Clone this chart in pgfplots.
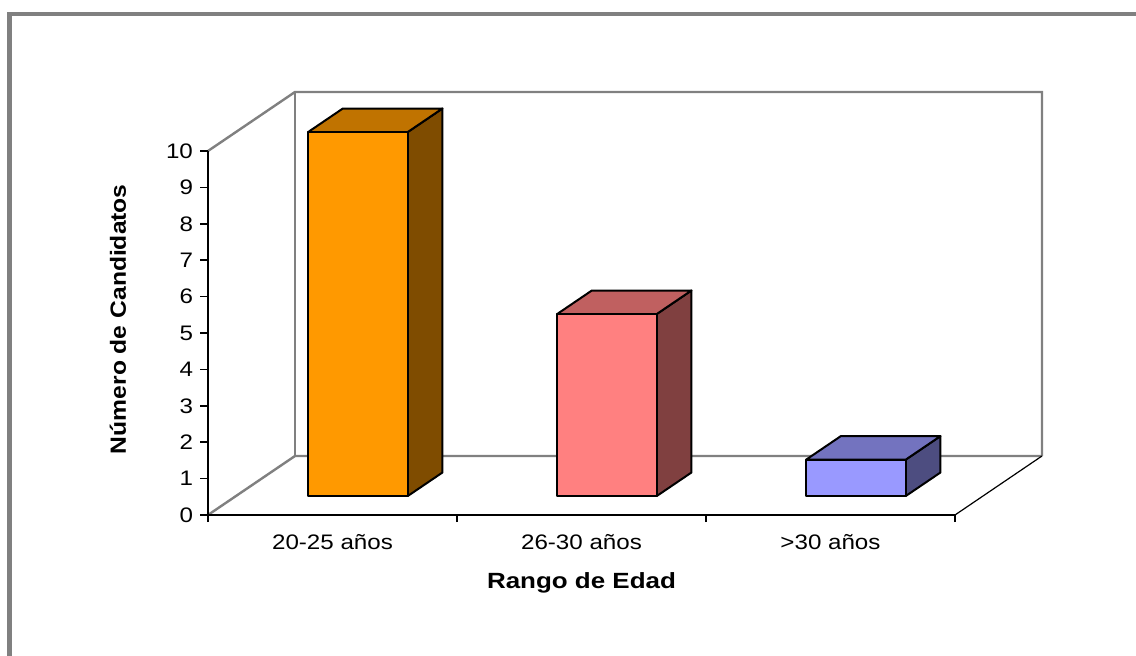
\documentclass[border=0pt]{standalone}
\usepackage{pgfplots}
\pgfplotsset{compat=1.18}
\usepackage{graphicx}
\usepackage{fontspec}
\setmainfont{Liberation Sans}

\definecolor{framegray}{HTML}{808080}
\definecolor{wallgray}{HTML}{808080}
\definecolor{orF}{HTML}{FF9900}
\definecolor{orT}{HTML}{C07300}
\definecolor{orS}{HTML}{7F4C00}
\definecolor{rsF}{HTML}{FF8080}
\definecolor{rsT}{HTML}{C06060}
\definecolor{rsS}{HTML}{804040}
\definecolor{blF}{HTML}{9999FF}
\definecolor{blT}{HTML}{7373BF}
\definecolor{blS}{HTML}{4D4D80}

% text is set slightly wider, as in the spreadsheet rendering
\newcommand{\wide}[1]{\scalebox{1.15}[1]{#1}}
\newcommand{\wider}[1]{\scalebox{1.18}[1]{#1}}

% one 3-D column: left x, right x, value, front / top / side colours
\newcommand{\column}[6]{%
  \addplot3[draw=black, line width=1pt, line join=round, fill=#6, mark=none]
    coordinates {(#2,0.32,0) (#2,0.72,0) (#2,0.72,#3) (#2,0.32,#3)} -- cycle;
  \addplot3[draw=black, line width=1pt, line join=round, fill=#5, mark=none]
    coordinates {(#1,0.32,#3) (#2,0.32,#3) (#2,0.72,#3) (#1,0.72,#3)} -- cycle;
  \addplot3[draw=black, line width=1pt, line join=round, fill=#4, mark=none]
    coordinates {(#1,0.32,0) (#2,0.32,0) (#2,0.32,#3) (#1,0.32,#3)} -- cycle;
}

\begin{document}
\begin{tikzpicture}
\useasboundingbox (0,0) rectangle (568pt,328pt);
\fill[white] (0,0) rectangle (568pt,328pt);
\begin{scope}
\clip (0,0) rectangle (568pt,328pt);
\draw[line width=2.3pt, framegray] (4.75pt,-5pt) -- (4.75pt,321pt) -- (580pt,321pt);
\end{scope}

% walls, floor and columns
\begin{axis}[
  at={(104pt,70.5pt)}, anchor=origin,
  x={(124.5pt,0pt)}, y={(43.5pt,29.5pt)}, z={(0pt,18.2pt)},
  xmin=0, xmax=3, ymin=0, ymax=1, zmin=0, zmax=10,
  hide axis, clip=false,
]
\addplot3[wallgray, line width=1.2pt, mark=none] coordinates {(0,0,0) (0,1,0) (3,1,0)};
\addplot3[wallgray, line width=1.2pt, mark=none] coordinates {(0,0,10) (0,1,10) (3,1,10) (3,1,0)};
\addplot3[wallgray, line width=1.2pt, mark=none] coordinates {(0,1,0) (0,1,10)};
\addplot3[black, line width=0.6pt, mark=none] coordinates {(3,0,0) (3,1,0)};

\column{0.29}{0.69}{10}{orF}{orT}{orS}
\column{1.29}{1.69}{5}{rsF}{rsT}{rsS}
\column{2.29}{2.69}{1}{blF}{blT}{blS}
\end{axis}

% front axes with ticks and labels
\begin{axis}[
  at={(104pt,70.5pt)}, anchor=origin,
  x={(124.5pt,0pt)}, y={(0pt,18.2pt)},
  xmin=0, xmax=3, ymin=0, ymax=10,
  axis x line*=bottom, axis y line*=left,
  axis line style={black, line width=1pt},
  xtick={0.5,1.5,2.5},
  xticklabels={\wide{20-25 años}, \wide{26-30 años}, \wide{>30 años}},
  major x tick style={draw=none},
  minor xtick={0,1,2,3},
  ytick={0,1,...,10},
  yticklabel={\wide{\pgfmathprintnumber{\tick}}},
  /pgf/number format/assume math mode=true,
  tick align=outside,
  major tick length=4pt, minor tick length=3.6pt,
  tick style={black, line width=0.8pt},
  ticklabel style={font=\fontsize{10.5}{12}\selectfont},
  xticklabel style={yshift=-2pt},
  xlabel={\wider{\bfseries Rango de Edad}},
  ylabel={\scalebox{1.12}[1]{\bfseries Número de Candidatos}},
  label style={font=\fontsize{11}{13}\selectfont},
  xlabel style={at={(axis description cs:0.5,-0.187)}, anchor=center},
  ylabel style={at={(axis description cs:-0.1205,0.538)}, anchor=center},
]
\end{axis}
\end{tikzpicture}
\end{document}
